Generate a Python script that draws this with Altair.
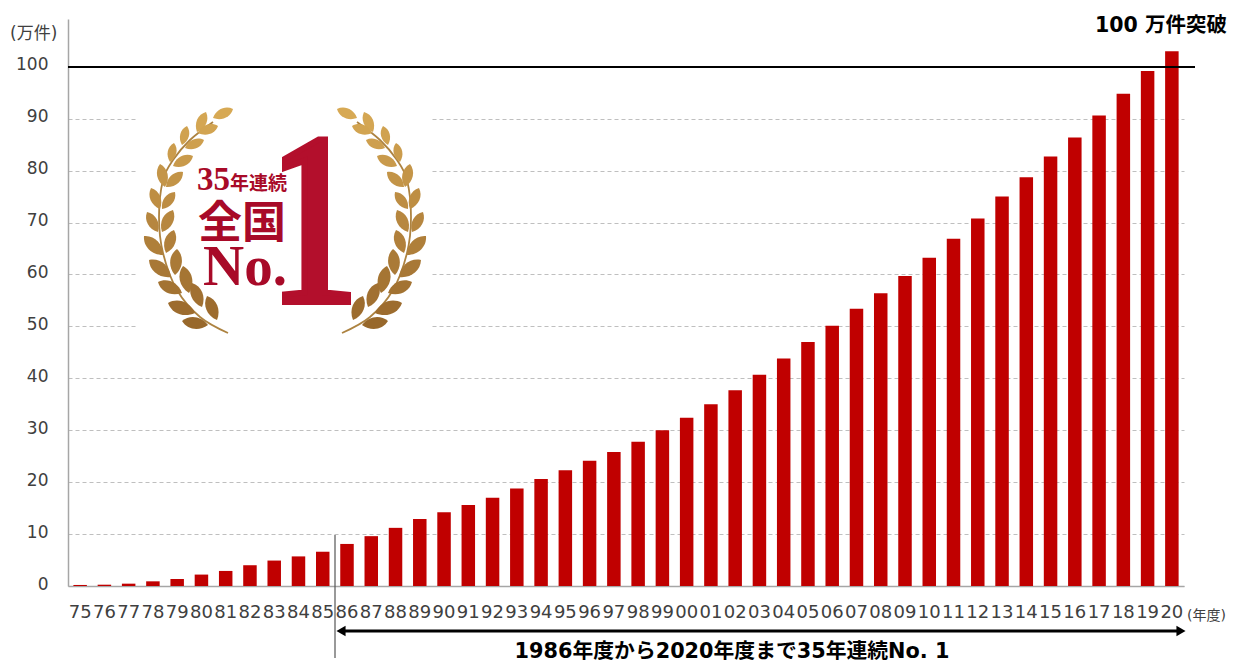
import altair as alt
import pandas as pd
import math

years = ["75","76","77","78","79","80","81","82","83","84","85","86","87","88","89","90","91","92","93","94","95","96","97","98","99","00","01","02","03","04","05","06","07","08","09","10","11","12","13","14","15","16","17","18","19","20"]
values = [0.2,0.25,0.45,0.9,1.35,2.2,2.9,4.0,4.9,5.7,6.6,8.1,9.6,11.2,12.9,14.2,15.6,17.0,18.8,20.6,22.3,24.1,25.8,27.8,30.0,32.4,35.0,37.7,40.7,43.8,47.0,50.1,53.4,56.4,59.7,63.2,66.9,70.8,75.0,78.7,82.7,86.4,90.6,94.8,99.2,103.0]

# Emblem: leaf tip and base in page pixels (left branch; right is its mirror)
leaf_tip_x = [233,206,218,187,204,174,193,160,183,151,175,147,173,144,174,149,177,158,183,168,192,182,207]
leaf_tip_y = [109,112,126,126,140,143,156,164,172,188,192,212,210,236,230,260,249,282,266,303,283,321,296]
leaf_base_x = [213,197,198,182,185,170,173,165,166,160,162,158,162,163,166,171,175,182,189,195,202,208,217]
leaf_base_y = [118,132,133,145,148,162,166,187,187,209,209,232,232,255,253,277,275,293,293,313,307,325,320]
stem_x = [228,200,177,163,159,163,173,190,213]
stem_y = [333,317,290,253,217,180,160,140,122]

W, H, X0, Y0 = 1116, 567, 68, 19
MIRROR = 570
SANS = "DejaVu Sans, Noto Sans CJK JP"
SERIF = "Liberation Serif, Noto Sans CJK JP"

px = alt.Scale(domain=[X0, X0 + W], range=[0, W])
py = alt.Scale(domain=[Y0, Y0 + H], range=[0, H])
PX = lambda f: alt.X(f, type="quantitative", scale=px, axis=None)
PY = lambda f: alt.Y(f, type="quantitative", scale=py, axis=None)

bars = alt.Chart(pd.DataFrame({"year": years, "value": values})).mark_bar(size=13.5, color="#c00000").encode(
    x=alt.X("year:N", sort=years, title=None, scale=alt.Scale(paddingInner=0, paddingOuter=0),
            axis=alt.Axis(labelAngle=0, labelFontSize=18, labelFont=SANS, labelColor="#404040", labelPadding=17,
                          ticks=False, domainColor="#a6a6a6", domainWidth=1.5, labelOverlap=False, labelBound=False, grid=False)),
    y=alt.Y("value:Q", title=None, scale=alt.Scale(domain=[0, 109.2], nice=False),
            axis=alt.Axis(values=list(range(0, 110, 10)), labelFontSize=17, labelFont=SANS, labelColor="#404040", labelPadding=20,
                          labelOffset=-2, ticks=False, domainColor="#a6a6a6", domainWidth=1.5, grid=True,
                          gridColor="#bfbfbf", gridDash=[4, 3], gridWidth=1)),
)

def rule(x1, x2, y1, y2, color, width):
    d = pd.DataFrame({"x": [x1], "x2": [x2], "y": [y1], "y2": [y2]})
    return alt.Chart(d).mark_rule(color=color, strokeWidth=width, clip=False).encode(
        x=PX("x"), x2="x2:Q", y=PY("y"), y2="y2:Q")

def text(s, x, y, size, font, color="#000000", weight="normal", align="left", **kw):
    d = pd.DataFrame({"x": [x], "y": [y], "t": [s]})
    return alt.Chart(d).mark_text(fontSize=size, font=font, color=color, fontWeight=weight,
                                  align=align, baseline="alphabetic", clip=False, **kw).encode(
        x=PX("x"), y=PY("y"), text="t:N")

def white_box(x1, x2, y1, y2):
    return alt.Chart(pd.DataFrame({"x": [x1], "x2": [x2], "y": [y1], "y2": [y2]})).mark_rect(color="#ffffff").encode(
        x=PX("x"), x2="x2:Q", y=PY("y"), y2="y2:Q")

def leaves():
    rows = []
    for tx, ty, bx, by in zip(leaf_tip_x, leaf_tip_y, leaf_base_x, leaf_base_y):
        for m in (False, True):
            a, c = (MIRROR - tx, MIRROR - bx) if m else (tx, bx)
            ang = math.degrees(math.atan2(a - c, by - ty)) % 360
            L = math.hypot(a - c, ty - by)
            rows.append({"x": (a + c) / 2, "y": (ty + by) / 2, "angle": ang, "size": L * L})
    return pd.DataFrame(rows)

leaf_path = "M0,-1 C0.6,-0.5 0.6,0.4 0,1 C-0.6,0.4 -0.6,-0.5 0,-1 Z"
leaf_layer = alt.Chart(leaves()).mark_point(filled=True, shape=leaf_path, opacity=1, strokeWidth=0).encode(
    x=PX("x"), y=PY("y"),
    angle=alt.Angle("angle:Q", scale=None),
    size=alt.Size("size:Q", scale=None, legend=None),
    color=alt.Color("y:Q", scale=alt.Scale(domain=[110, 330], range=["#d8aa55", "#96662a"]), legend=None),
)

stem_df = pd.DataFrame(
    [{"x": x, "y": y, "i": i, "side": "L"} for i, (x, y) in enumerate(zip(stem_x, stem_y))]
    + [{"x": MIRROR - x, "y": y, "i": i, "side": "R"} for i, (x, y) in enumerate(zip(stem_x, stem_y))]
)
stem_layer = alt.Chart(stem_df).mark_line(color="#ad8341", strokeWidth=1.8, interpolate="cardinal").encode(
    x=PX("x"), y=PY("y"), detail="side:N", order="i:Q")

def arrow(x, shape):
    return alt.Chart(pd.DataFrame({"x": [x], "y": [631]})).mark_point(
        filled=True, shape=shape, size=110, color="#000000", opacity=1, clip=False).encode(x=PX("x"), y=PY("y"))

chart = alt.layer(
    bars,
    white_box(138, 430, 100, 342),
    text("1", 250, 302, 245, SERIF, color="#b30f2c", stroke="#b30f2c", strokeWidth=6),
    white_box(250, 282, 125, 310),
    white_box(351, 372, 285, 310),
    stem_layer,
    leaf_layer,
    text("35", 197, 190, 33, SERIF, color="#a80a28", weight="bold"),
    text("年連続", 230, 190, 19, SERIF, color="#a80a28", weight="bold"),
    text("全国", 198, 238, 44, SERIF, color="#a80a28", weight="bold"),
    text("No.", 203, 285, 57, SERIF, color="#a80a28", weight="bold"),
    rule(68, 1195, 67, 67, "#000000", 1.8),
    rule(335, 335, 535, 658, "#555555", 1.2),
    rule(342, 1180, 631, 631, "#000000", 3),
    arrow(341, "triangle-left"),
    arrow(1181, "triangle-right"),
    text("(万件)", 10, 39, 17, SANS, color="#404040"),
    text("(年度)", 1187, 620, 14, SANS, color="#404040"),
    text("100 万件突破", 1227, 32, 20.5, SANS, weight="bold", align="right"),
    text("1986年度から2020年度まで35年連続No. 1", 732, 657.5, 20.8, SANS, weight="bold", align="center"),
).resolve_scale(x="independent", y="independent", color="independent").properties(
    width=W, height=H, background="#ffffff",
    padding={"left": X0 - 8, "top": Y0 - 8, "right": 43, "bottom": 76},
    autosize=alt.AutoSizeParams(type="none"),
).configure_view(strokeWidth=0)

chart.save("out.html", embed_options={"renderer": "svg", "actions": False})
